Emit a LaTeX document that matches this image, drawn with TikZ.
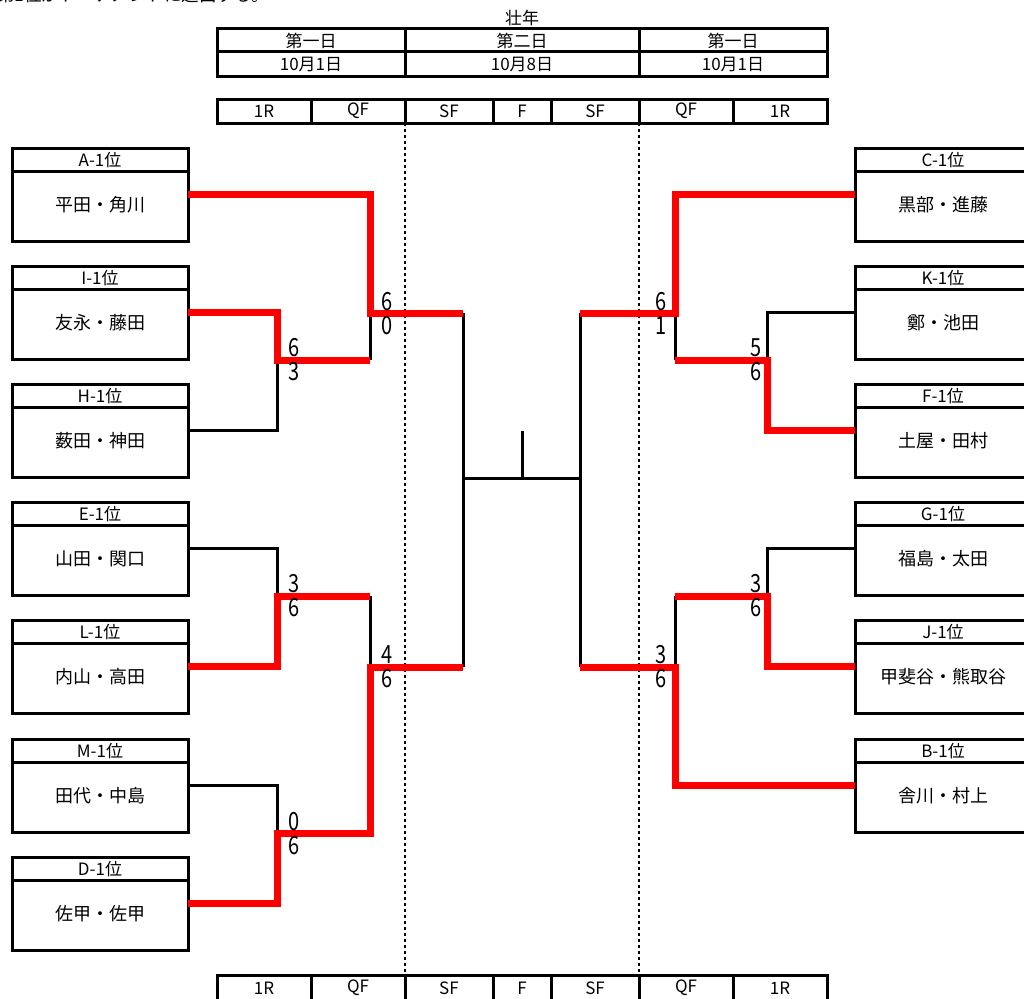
\documentclass[tikz,border=0pt]{standalone}
\usepackage{fontspec}
\setmainfont{Noto Sans CJK JP}
\begin{document}
\begin{tikzpicture}[x=1pt,y=-1pt,
  frame/.style={line width=3pt},
  teambox/.style={draw,line width=3pt,minimum width=176pt,minimum height=93pt,inner sep=0pt,outer sep=0pt},
  loser/.style={line width=3pt,line join=miter},
  winner/.style={line width=7pt,draw=red,line join=miter},
  score/.style={font=\fontsize{25}{25}\selectfont,inner sep=0pt},
  hdr/.style={font=\fontsize{17}{17}\selectfont,inner sep=0pt},
  tname/.style={font=\fontsize{18}{18}\selectfont,inner sep=0pt},
  dots/.style={line width=2.5pt,dash pattern=on 3pt off 3pt}]
\useasboundingbox (0,0) rectangle (1024,998);
\clip (0,0) rectangle (1024,998);

% cut-off note at top
\node[anchor=base west,font=\fontsize{17.5}{17.5}\selectfont,inner sep=0pt] (note) at (-3,1.8) {第1位がトーナメントに進出する。};

% title and date table
\node[hdr] (title) at (522,18) {壮年};
\draw[frame] (217,29) rectangle (827,76);
\draw[frame] (217,52) -- (827,52);
\draw[frame] (405,29) -- (405,76);
\draw[frame] (639,29) -- (639,76);
\node[hdr] (d1) at (311,40.5) {第一日};
\node[hdr] (d2) at (522,40.5) {第二日};
\node[hdr] (d3) at (733,40.5) {第一日};
\node[hdr] (t1) at (311,64) {10月1日};
\node[hdr] (t2) at (522,64) {10月8日};
\node[hdr] (t3) at (733,64) {10月1日};

% round tables
\foreach \ty/\by/\ly/\nm in {99/123/111/top,975/1010/988/bot}{
  \draw[frame] (217,\ty) rectangle (827,\by);
  \foreach \xx in {311,405,493,551,639,733}{\draw[frame] (\xx,\ty) -- (\xx,\by);}
  \foreach \xx/\txt/\k in {264/1R/a,358/QF/b,449/SF/c,522/F/d,595/SF/e,686/QF/f,780/1R/g}{
    \node[hdr] (r\nm\k) at (\xx,\ly) {\txt};}
}

% dotted separators
\draw[dots] (405,123) -- (405,975);
\draw[dots] (639,123) -- (639,975);

% team boxes
\foreach \id/\lab/\tm/\cx/\tp in {A/A-1位/平田・角川/100/148,I/I-1位/友永・藤田/100/266,H/H-1位/薮田・神田/100/384,E/E-1位/山田・関口/100/502,L/L-1位/内山・高田/100/620,M/M-1位/田代・中島/100/739,D/D-1位/佐甲・佐甲/100/857,C/C-1位/黒部・進藤/943/148,K/K-1位/鄭・池田/943/266,F/F-1位/土屋・田村/943/384,G/G-1位/福島・太田/943/502,J/J-1位/甲斐谷・熊取谷/943/620,B/B-1位/舎川・村上/943/739}{
  \node[teambox] (\id) at (\cx,\tp+46.5) {};
  \draw[frame] ([yshift=-23pt]\id.north west) -- ([yshift=-23pt]\id.north east);
  \node[hdr] (\id-lab) at ([yshift=-12pt]\id.north) {\lab};
  \node[tname] (\id-tm) at ([yshift=-10pt]\id.center) {\tm};
}

% junction coordinates
\coordinate (L1a) at (277,360);
\coordinate (L1b) at (277,596);
\coordinate (L1c) at (277,833);
\coordinate (L2a) at (370,313);
\coordinate (L2b) at (370,667);
\coordinate (L3) at (463,478);
\coordinate (Fc) at (522,478);
\coordinate (Ftop) at (522,431);
\coordinate (R1a) at (767,360);
\coordinate (R1b) at (767,596);
\coordinate (R2a) at (675,313);
\coordinate (R2b) at (675,667);
\coordinate (R3) at (580,478);

% losing (black) lines
\draw[loser] (H.east) -| (L1a);
\draw[loser] (E.east) -| (L1b);
\draw[loser] (M.east) -| (L1c);
\draw[loser] (L1a -| L2a) -- (L2a);
\draw[loser] (L1b -| L2b) -- (L2b);
\draw[loser] (L2a -| L3) -- (L2b -| L3);
\draw[loser] (L3) -- (R3);
\draw[loser] (Ftop) -- (Fc);
\draw[loser] (K.west) -| (R1a);
\draw[loser] (G.west) -| (R1b);
\draw[loser] (R1a -| R2a) -- (R2a);
\draw[loser] (R1b -| R2b) -- (R2b);
\draw[loser] (R2a -| R3) -- (R2b -| R3);

% winning (red) lines
\draw[winner] (A.east) -| (L2a) -- (L2a -| L3);
\draw[winner] (I.east) -| (L1a) -- (L1a -| L2a);
\draw[winner] (L.east) -| (L1b) -- (L1b -| L2b);
\draw[winner] (D.east) -| (L1c) -- (L1c -| L2b) -- (L2b) -- (L2b -| L3);
\draw[winner] (C.west) -| (R2a) -- (R2a -| R3);
\draw[winner] (F.west) -| (R1a) -- (R1a -| R2a);
\draw[winner] (J.west) -| (R1b) -- (R1b -| R2b);
\draw[winner] (B.west) -| (R2b) -- (R2b -| R3);

% scores
\foreach \xx/\yy/\s/\k in {294/348/6/a,294/372/3/b,387/302/6/c,387/326/0/d,294/584/3/e,294/608/6/f,294/822/0/g,294/846/6/h,387/655/4/i,387/679/6/j,661/302/6/k,661/326/1/l,756/348/5/m,756/372/6/n,756/584/3/o,756/608/6/p,661/655/3/q,661/679/6/r}{
  \node[score] (sc\k) at (\xx,\yy) {\scalebox{0.8}[1]{\s}};
}
\end{tikzpicture}
\end{document}
